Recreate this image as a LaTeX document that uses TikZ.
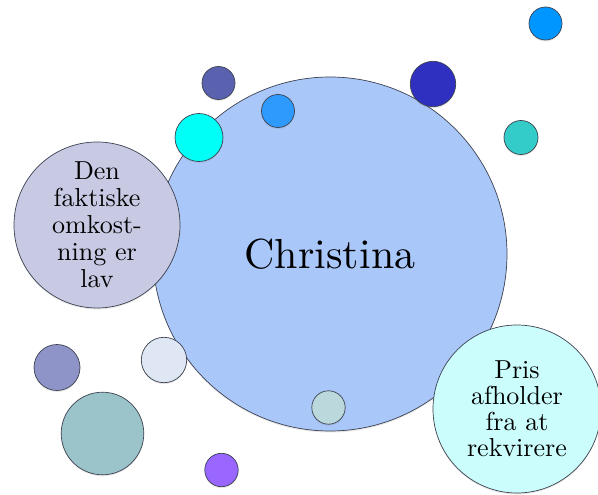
\documentclass[tikz,border=0pt]{standalone}
\usepackage{fontspec}
\setmainfont{lmroman10-regular.otf}
\usepackage{tikz}
\usetikzlibrary{shadows}
\definecolor{hovedblaa}{RGB}{170,199,250}
\definecolor{graalilla}{RGB}{200,202,228}
\definecolor{lysecyan}{RGB}{204,253,253}
\definecolor{kant}{RGB}{60,66,80}

\tikzset{
  boble/.style={circle, draw=kant, line width=0.7pt, inner sep=0pt, align=center,
    drop shadow={opacity=0.18, shadow xshift=0pt, shadow yshift=-1.5pt}},
  tekstboble/.style={boble, font=\fontsize{26}{26}\selectfont}
}

\begin{document}
\begin{tikzpicture}[x=1pt, y=-1pt]
			\useasboundingbox (0,0) rectangle (598,495);
			
			% hovedcirklen
			\node[boble, fill=hovedblaa, minimum size=354pt, font=\fontsize{42}{48}\selectfont] (christina) at (330,254) {Christina};
			
			% de smaa bobler
			\foreach \px/\py/\r/\farve [count=\i] in {
				545.5/23.5/16.5/{rgb,255:red,0;green,150;blue,255},
				433/84/22.7/{rgb,255:red,48;green,48;blue,192},
				218.5/83/16.5/{rgb,255:red,90;green,98;blue,176},
				278/111/16.5/{rgb,255:red,46;green,154;blue,253},
				199/137.5/24/{rgb,255:red,0;green,255;blue,246},
				521/137.5/17/{rgb,255:red,51;green,204;blue,200},
				164/360/22.7/{rgb,255:red,222;green,231;blue,243},
				57/367.5/23/{rgb,255:red,143;green,148;blue,200},
				102.5/433.5/41.3/{rgb,255:red,154;green,196;blue,202},
				328.5/407.5/16.7/{rgb,255:red,187;green,216;blue,220},
				221.5/470/16.7/{rgb,255:red,153;green,102;blue,255}}
			\node[boble, fill={\farve}, minimum size=2*\r] (prik\i) at (\px,\py) {};
			
			% tekstboblerne
			\node[tekstboble, fill=graalilla, minimum size=166pt, font=\fontsize{26}{27}\selectfont] (omkost) at (97,225)
				{Den\\faktiske\\omkost-\\ning er\\lav};
			\node[tekstboble, fill=lysecyan, minimum size=168pt] (pris) at (517,409)
				{Pris\\afholder\\fra at\\rekvirere};
		\end{tikzpicture}
\end{document}
